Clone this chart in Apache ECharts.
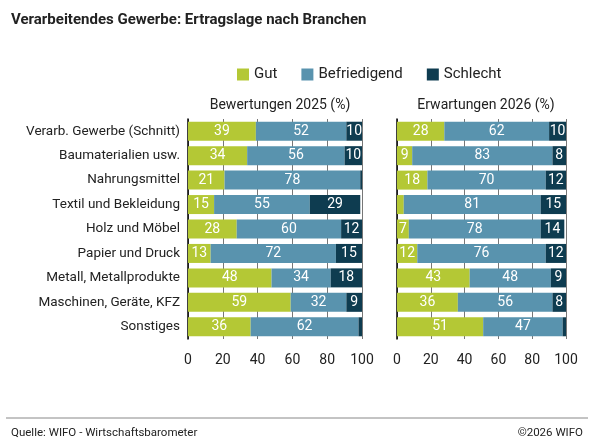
<!DOCTYPE html><html><head><meta charset="utf-8"><script src="https://cdn.jsdelivr.net/npm/echarts@6/dist/echarts.min.js"></script></head><body style="margin:0"><div id="c" style="width:594px;height:438px"></div><script>
const categories=["Verarb. Gewerbe (Schnitt)","Baumaterialien usw.","Nahrungsmittel","Textil und Bekleidung","Holz und Möbel","Papier und Druck","Metall, Metallprodukte","Maschinen, Geräte, KFZ","Sonstiges"];
const gut25=[39,34,21,15,28,13,48,59,36];
const bef25=[52,56,78,55,60,72,34,32,62];
const sch25=[10,10,1,29,12,15,18,9,2];
const gut26=[28,9,18,4,7,12,43,36,51];
const bef26=[62,83,70,81,78,76,48,56,47];
const sch26=[10,8,12,15,14,12,9,8,2];
const colors=['#b4c835','#5993ae','#0e3c50'];
const names=['Gut','Befriedigend','Schlecht'];
const F='Roboto';
const chart=echarts.init(document.getElementById('c'));
function xa(i){return {type:'value',gridIndex:i,min:0,max:100,interval:20,axisLine:{show:false},axisTick:{show:false},axisLabel:{color:'#222',fontSize:14,fontFamily:F,margin:14},splitLine:{lineStyle:{color:'#777',width:1}}};}
function ya(i){return {type:'category',gridIndex:i,data:categories,inverse:true,axisTick:{show:false},axisLine:{show:true,lineStyle:{color:'#000',width:1.5}},axisLabel:{show:i===0,color:'#222',fontSize:13.5,fontFamily:F,margin:8}};}
const series=[];
[[gut25,bef25,sch25],[gut26,bef26,sch26]].forEach((set,g)=>{set.forEach((d,k)=>{series.push({name:names[k],type:'bar',stack:'s'+g,xAxisIndex:g,yAxisIndex:g,data:d,barWidth:19,itemStyle:{color:colors[k]},label:{show:true,position:'inside',color:'#fff',fontSize:14,fontFamily:F,formatter:p=>p.value>=5?p.value:''}});});});
chart.setOption({animation:false,
title:[{text:'Verarbeitendes Gewerbe: Ertragslage nach Branchen',left:6,top:8,textStyle:{fontSize:15,fontWeight:'bold',fontFamily:F,color:'#222'}},
{text:'Bewertungen 2025 (%)',left:275,top:93,textAlign:'center',textStyle:{fontSize:14,fontWeight:'normal',fontFamily:F,color:'#222'}},
{text:'Erwartungen 2026 (%)',left:481,top:93,textAlign:'center',textStyle:{fontSize:14,fontWeight:'normal',fontFamily:F,color:'#222'}},
{text:'Quelle: WIFO - Wirtschaftsbarometer',left:6,top:422,textStyle:{fontSize:11.5,fontWeight:'normal',fontFamily:F,color:'#222'}},
{text:'©2026 WIFO',right:6,top:422,textStyle:{fontSize:11.5,fontWeight:'normal',fontFamily:F,color:'#222'}}],
legend:{data:names,top:62,left:232,itemWidth:12,itemHeight:12,itemGap:24,icon:'rect',textStyle:{fontSize:15,fontFamily:F,color:'#222'}},
grid:[{left:188,width:174,top:119,height:220},{left:397,width:169,top:119,height:220}],
xAxis:[xa(0),xa(1)],yAxis:[ya(0),ya(1)],series,
graphic:[{type:'line',shape:{x1:6,y1:418,x2:588,y2:418},style:{stroke:'#888',lineWidth:1}}]});
</script></body></html>
